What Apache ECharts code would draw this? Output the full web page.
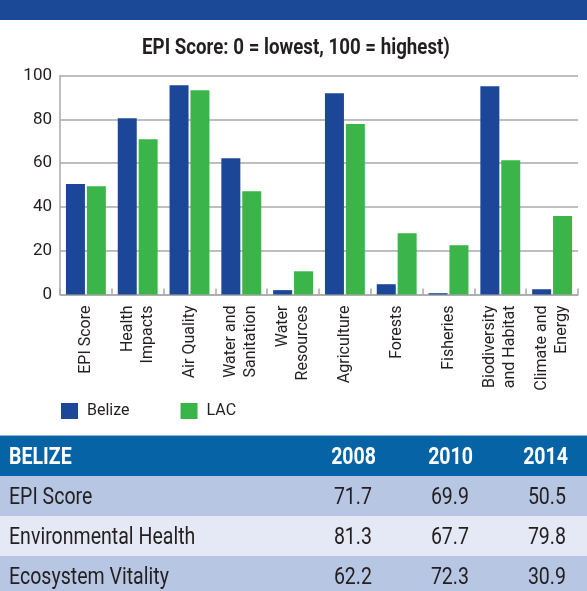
<!DOCTYPE html>
<html>
<head>
<meta charset="utf-8">
<title>Belize EPI</title>
<script src="https://cdn.jsdelivr.net/npm/echarts@6/dist/echarts.min.js"></script>
<style>
  html, body { margin: 0; padding: 0; background: #ffffff; }
  #chart { width: 587px; height: 591px; }
</style>
</head>
<body>
<div id="chart"></div>
<script>
// Indicator categories along the x axis
const categories = [
  'EPI Score', 'Health\nImpacts', 'Air Quality', 'Water and\nSanitation',
  'Water\nResources', 'Agriculture', 'Forests', 'Fisheries',
  'Biodiversity\nand Habitat', 'Climate and\nEnergy'
];
// Scores, 0 = lowest, 100 = highest
const belizeScores = [50.5, 80.5, 95.6, 62.2, 2.0, 91.9, 4.7, 0.6, 95.1, 2.4];
const lacScores    = [49.4, 70.9, 93.3, 47.2, 10.6, 77.8, 28.0, 22.5, 61.3, 35.8];
const yTicks = [0, 20, 40, 60, 80, 100];

// Summary table
const tableTitle = 'BELIZE';
const tableYears = ['2008', '2010', '2014'];
const tableRowNames = ['EPI Score', 'Environmental Health', 'Ecosystem Vitality'];
const tableValues = [
  ['71.7', '69.9', '50.5'],
  ['81.3', '67.7', '79.8'],
  ['62.2', '72.3', '30.9']
];
const chartTitle = 'EPI Score: 0 = lowest, 100 = highest)';

const FONT = 'Roboto, "Noto Sans", sans-serif';
const BLUE = '#1c4798';
const GREEN = '#3bb54a';
const TEXT = '#231f20';
const NARROW = 0.85;   // horizontal squeeze for a condensed look

const chart = echarts.init(document.getElementById('chart'), null, { renderer: 'canvas' });

// Condensed text placed at an anchor point
function narrowText(str, x, y, font, fill, align) {
  return {
    type: 'text', x: x, y: y, scaleX: NARROW, silent: true,
    style: { text: str, font: font, fill: fill, textAlign: align, textVerticalAlign: 'middle' }
  };
}

// Table graphics
const tableTop = 436;
const headerH = 40;
const rowH = 40;
const yearRight = [376, 473, 568];
const valueRight = [372, 469, 566];
const rowFills = ['#b7c7e3', '#e5e9f5', '#b7c7e3'];

const graphics = [
  // blue band across the top
  { type: 'rect', left: 0, top: 0, shape: { width: 587, height: 20 }, style: { fill: '#1c4898' }, silent: true },
  // chart heading
  narrowText(chartTitle, 296, 48.5, 'bold 22px ' + FONT, TEXT, 'center'),
  // table header
  { type: 'rect', left: 0, top: tableTop - 1, shape: { width: 587, height: 1 }, style: { fill: '#8fb3d6' }, silent: true },
  { type: 'rect', left: 0, top: tableTop, shape: { width: 587, height: headerH }, style: { fill: '#0563a6' }, silent: true },
  narrowText(tableTitle, 9, tableTop + headerH / 2 + 2, 'bold 23px ' + FONT, '#ffffff', 'left')
];
tableYears.forEach((y, i) => {
  graphics.push(narrowText(y, yearRight[i], tableTop + headerH / 2 + 2, 'bold 23px ' + FONT, '#ffffff', 'right'));
});
tableRowNames.forEach((name, r) => {
  const top = tableTop + headerH + r * rowH;
  graphics.push({ type: 'rect', left: 0, top: top, shape: { width: 587, height: rowH }, style: { fill: rowFills[r] }, silent: true });
  graphics.push(narrowText(name, 9, top + rowH / 2 + 2, '23px ' + FONT, TEXT, 'left'));
  tableValues[r].forEach((v, c) => {
    graphics.push(narrowText(v, valueRight[c], top + rowH / 2 + 2, '23px ' + FONT, TEXT, 'right'));
  });
});

chart.setOption({
  animation: false,
  backgroundColor: '#ffffff',
  legend: {
    left: 61,
    top: 403,
    itemWidth: 17,
    itemHeight: 16,
    itemGap: 51,
    padding: 0,
    icon: 'rect',
    data: ['Belize', 'LAC'],
    textStyle: { fontFamily: FONT, fontSize: 16, color: TEXT, padding: [0, 0, 0, 4] }
  },
  grid: { left: 60, right: 9, top: 75.5, bottom: 296.5, containLabel: false },
  xAxis: {
    type: 'category',
    data: categories,
    axisLine: { lineStyle: { color: '#a9a9a9', width: 1.5 } },
    axisTick: { show: true, inside: true, length: 6, lineStyle: { color: '#a9a9a9', width: 1.5 } },
    axisLabel: {
      interval: 0, rotate: 90, margin: 11,
      fontFamily: FONT, fontSize: 16, lineHeight: 20, color: TEXT
    }
  },
  yAxis: {
    type: 'value',
    min: yTicks[0],
    max: yTicks[yTicks.length - 1],
    interval: 20,
    axisLine: { show: true, lineStyle: { color: '#a9a9a9', width: 1.5 } },
    axisTick: { show: false },
    splitLine: { lineStyle: { color: '#a9a9a9', width: 1.5 } },
    axisLabel: { margin: 8, fontFamily: FONT, fontSize: 17, color: TEXT }
  },
  series: [
    { name: 'Belize', type: 'bar', data: belizeScores, barWidth: 19, barGap: '10%',
      itemStyle: { color: BLUE } },
    { name: 'LAC', type: 'bar', data: lacScores, barWidth: 19,
      itemStyle: { color: GREEN } }
  ],
  graphic: graphics
});
</script>
</body>
</html>
